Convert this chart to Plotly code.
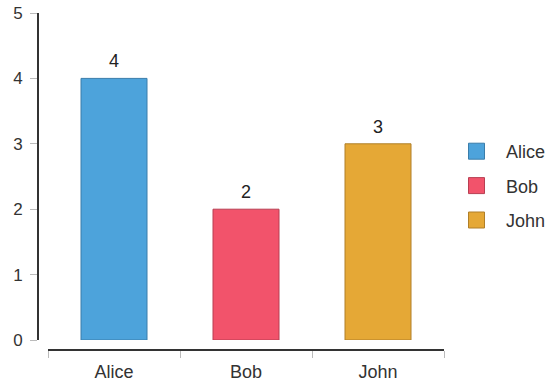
import plotly.graph_objects as go

names = ["Alice", "Bob", "John"]
values = [4, 2, 3]
colors = ["#4DA3DB", "#F2536B", "#E5A836"]
edge_colors = ["#3A7DAA", "#B83F52", "#B07F28"]
y_ticks = [0, 1, 2, 3, 4, 5]

W, H = 551, 385
FONT = "Liberation Sans, Arial, sans-serif"

fig = go.Figure()
for i, (n, v) in enumerate(zip(names, values)):
    fig.add_trace(go.Bar(
        x=[n], y=[v], name=n, width=0.5,
        marker=dict(color=colors[i], line=dict(color=edge_colors[i], width=1)),
        showlegend=False,
    ))
    # value label above bar
    fig.add_annotation(
        x=n, y=v, text=str(v), showarrow=False,
        yanchor="bottom", yshift=5,
        font=dict(size=18, color="#222222", family=FONT),
    )
    # legend entry with larger square swatch
    fig.add_trace(go.Scatter(
        x=[None], y=[None], name=n, mode="markers",
        marker=dict(symbol="square", size=22, color=colors[i],
                    line=dict(color=edge_colors[i], width=1)),
        legendgroup=n,
    ))

fig.update_layout(
    width=W, height=H,
    margin=dict(l=0, r=0, t=0, b=0, autoexpand=False),
    paper_bgcolor="white", plot_bgcolor="white",
    barmode="overlay",
    font=dict(family=FONT, size=18, color="#333333"),
    showlegend=True,
    legend=dict(
        x=447 / W, y=1 - 133 / H, xanchor="left", yanchor="top",
        font=dict(size=18, color="#333333"),
        tracegroupgap=8, itemsizing="trace", itemwidth=49,
    ),
    xaxis=dict(
        domain=[48 / W, 444 / W],
        range=[-0.5, 2.5],
        anchor="free", position=1 - 350 / H,
        showline=True, linecolor="#333333", linewidth=2,
        ticks="outside", tickson="boundaries", ticklen=7, tickcolor="#BBBBBB", tickwidth=1,
        showgrid=False, zeroline=False, automargin=False,
        tickfont=dict(size=18, color="#333333"),
        ticklabelstandoff=5,
    ),
    yaxis=dict(
        domain=[1 - 340 / H, 1 - 13 / H],
        range=[0, 5],
        anchor="free", position=38 / W,
        tickvals=y_ticks,
        showline=True, linecolor="#333333", linewidth=2,
        ticks="outside", ticklen=7, tickcolor="#BBBBBB", tickwidth=1,
        showgrid=False, zeroline=False, automargin=False,
        tickfont=dict(size=17, color="#333333"),
        ticklabelstandoff=4,
    ),
)

fig.write_html("out.html")
